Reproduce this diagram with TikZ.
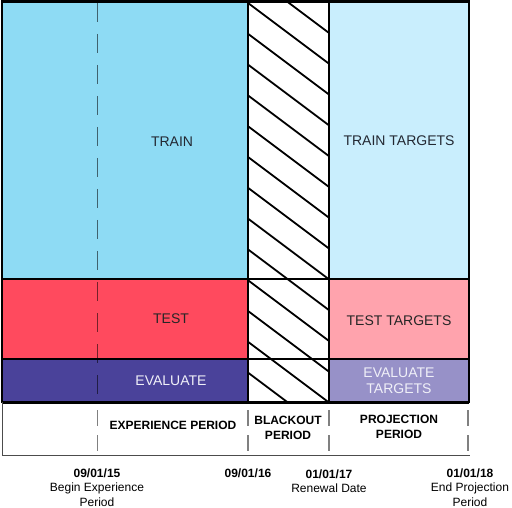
\documentclass[tikz,border=0pt]{standalone}
\usepackage{fontspec}
\setmainfont{Liberation Sans}
\definecolor{trainc}{RGB}{142,219,244}
\definecolor{traintc}{RGB}{201,238,253}
\definecolor{testc}{RGB}{255,74,94}
\definecolor{testtc}{RGB}{255,163,173}
\definecolor{evalc}{RGB}{74,66,154}
\definecolor{evaltc}{RGB}{151,145,200}
\definecolor{darktxt}{RGB}{35,40,50}
\definecolor{lighttxt}{RGB}{240,240,248}
\begin{document}
\begin{tikzpicture}[x=1pt,y=-1pt,
  celllabel/.style={font=\fontsize{14}{16}\selectfont, text=darktxt, align=center, inner sep=0pt},
  celllabelw/.style={celllabel, text=lighttxt},
  header/.style={font=\fontsize{12}{14.5}\selectfont\bfseries, align=center, inner sep=0pt},
  datelabel/.style={font=\fontsize{12}{14.5}\selectfont, align=center, inner sep=0pt},
  hatchline/.style={line width=1.8pt, black},
  divider/.style={line width=2pt, black},
  banddash/.style={gray, line width=1.3pt, dash pattern=on 16pt off 9pt},
  expdash/.style={black, opacity=0.55, line width=1.8pt, dash pattern=on 19pt off 12pt}]
\useasboundingbox (0,0) rectangle (512,508);
% cells
\fill[trainc] (2,2) rectangle (248,279);
\fill[testc] (2,279) rectangle (248,359);
\fill[evalc] (2,359) rectangle (248,402);
\fill[white] (248,2) rectangle (329,402);
\fill[traintc] (329,2) rectangle (469,279);
\fill[testtc] (329,279) rectangle (469,359);
\fill[evaltc] (329,359) rectangle (469,402);
% hatch
\begin{scope}
\clip (248,2) rectangle (329,402);
\foreach \k in {-2,...,13}
  \draw[hatchline] (248,{3+30.8*\k}) -- ++(81,60.75);
\end{scope}
% dividers
\draw[divider] (2,279) -- (469,279);
\draw[divider] (2,359) -- (469,359);
\draw[divider] (248,2) -- (248,402);
\draw[divider] (329,2) -- (329,402);
\draw[line width=2.5pt] (2,1.5) rectangle (469,402);
\draw[line width=3pt] (2,402.5) -- (469,402.5);
% bottom band
\draw[gray!60!black, line width=1pt] (2,402) -- (2,455) -- (470,455);
\draw[banddash] (248,410) -- (248,455);
\draw[banddash] (329,410) -- (329,455);
\draw[banddash] (468,410) -- (468,455);
\draw[expdash] (97.5,3) -- (97.5,402);
\draw[banddash] (97.5,410) -- (97.5,455);
% labels
\node[celllabel] (train) at (172,142) {TRAIN};
\node[celllabel] (traint) at (399,141) {TRAIN TARGETS};
\node[celllabel, text=black!85] (test) at (171,319) {TEST};
\node[celllabel, text=black!85] (testt) at (399,321) {TEST TARGETS};
\node[celllabelw] (eval) at (171,381) {EVALUATE};
\node[celllabelw] (evalt) at (399,381) {EVALUATE\\TARGETS};
\node[header] (exp) at (173,425) {EXPERIENCE PERIOD};
\node[header] (black) at (288,428) {BLACKOUT\\PERIOD};
\node[header] (proj) at (399,427) {PROJECTION\\PERIOD};
\node[datelabel] (d1) at (97,487.5) {\textbf{09/01/15}\\Begin Experience\\Period};
\node[datelabel] (d2) at (248,473) {\textbf{09/01/16}};
\node[datelabel] (d3) at (329,481) {\textbf{01/01/17}\\Renewal Date};
\node[datelabel] (d4) at (470,487.5) {\textbf{01/01/18}\\End Projection\\Period};
\end{tikzpicture}
\end{document}
